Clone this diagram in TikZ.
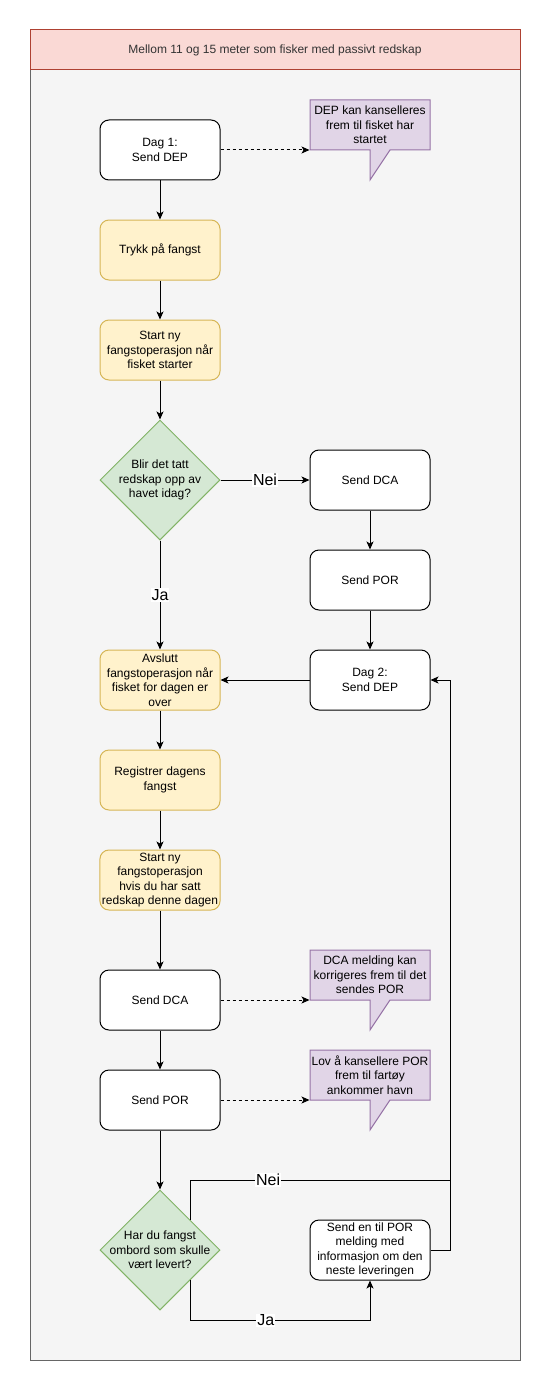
\documentclass[tikz,border=0pt]{standalone}
\usepackage{fontspec}
\setmainfont{Liberation Sans}
\usepackage{tikz}
\usetikzlibrary{arrows.meta,shapes.geometric}
\definecolor{headfill}{HTML}{FAD9D5}
\definecolor{headline}{HTML}{AE4132}
\definecolor{bodyfill}{HTML}{F5F5F5}
\definecolor{bodyline}{HTML}{666666}
\definecolor{yelfill}{HTML}{FFF2CC}
\definecolor{yelline}{HTML}{D6B656}
\definecolor{grnfill}{HTML}{D5E8D4}
\definecolor{grnline}{HTML}{82B366}
\definecolor{purfill}{HTML}{E1D5E7}
\definecolor{purline}{HTML}{9673A6}

\begin{document}
\begin{tikzpicture}[x=1pt,y=-1pt,line width=1pt,
  txt/.style={font=\fontsize{12pt}{14.5pt}\selectfont, align=center},
  stepbox/.style={txt, draw, fill=white, rounded corners=9pt, minimum width=120pt, minimum height=60pt, inner sep=2pt},
  yelbox/.style={stepbox, draw=yelline, fill=yelfill},
  choice/.style={txt, draw=grnline, fill=grnfill, diamond, aspect=1, minimum width=120pt, minimum height=120pt, inner sep=-12pt},
  note/.style={draw=purline, fill=purfill, line join=miter},
  arr/.style={-{Stealth[length=8pt,width=7pt,inset=2pt]}},
  dasharr/.style={arr, dashed, dash pattern=on 3pt off 3pt},
  lbl/.style={fill=white, inner sep=1pt, font=\fontsize{16pt}{18pt}\selectfont}]
\useasboundingbox (0,0) rectangle (551,1391);
\draw[draw=bodyline, fill=bodyfill] (30,30) rectangle (520,1360);
\draw[draw=headline, fill=headfill] (30,30) rectangle (520,70);
\node[txt, text=black!80] (title) at (275,50) {Mellom 11 og 15 meter som fisker med passivt redskap};
\foreach \cy in {100,950,1050}
  \draw[note] (310,\cy) -- ++(120,0) -- ++(0,50) -- ++(-40,0) -- ++(-20,30) -- ++(0,-30) -- ++(-60,0) -- cycle;
\node[txt, minimum width=120pt, minimum height=50pt, inner sep=1pt] (note1) at (370,125) {DEP kan kanselleres\\frem til fisket har\\startet};
\node[txt, minimum width=120pt, minimum height=50pt, inner sep=1pt] (note2) at (370,975) {DCA melding kan\\korrigeres frem til det\\sendes POR};
\node[txt, minimum width=120pt, minimum height=50pt, inner sep=1pt] (note3) at (370,1075) {Lov å kansellere POR\\frem til fartøy\\ankommer havn};
\node[stepbox] (dag1) at (160,150) {Dag 1:\\Send DEP};
\node[yelbox] (trykk) at (160,250) {Trykk på fangst};
\node[yelbox] (startny) at (160,350) {Start ny\\fangstoperasjon når\\fisket starter};
\node[choice] (dia1) at (160,480) {Blir det tatt\\redskap opp av\\havet idag?};
\node[stepbox] (dca1) at (370,480) {Send DCA};
\node[stepbox] (por1) at (370,580) {Send POR};
\node[stepbox] (dag2) at (370,680) {Dag 2:\\Send DEP};
\node[yelbox] (avslutt) at (160,680) {Avslutt\\fangstoperasjon når\\fisket for dagen er\\over};
\node[yelbox] (reg) at (160,780) {Registrer dagens\\fangst};
\node[yelbox] (startny2) at (160,880) {Start ny\\fangstoperasjon\\hvis du har satt\\redskap denne dagen};
\node[stepbox] (dca2) at (160,1000) {Send DCA};
\node[stepbox] (por2) at (160,1100) {Send POR};
\node[choice] (dia2) at (160,1250) {Har du fangst\\ombord som skulle\\vært levert?};
\node[stepbox] (sendinfo) at (370,1250) {Send en til POR\\melding med\\informasjon om den\\neste leveringen};
\coordinate (nei) at (450,1180);
\draw[dasharr] (dag1) -- (note1.west |- dag1);
\draw[dasharr] (dca2) -- (note2.west |- dca2);
\draw[dasharr] (por2) -- (note3.west |- por2);
\draw[arr] (dag1) -- (trykk);
\draw[arr] (trykk) -- (startny);
\draw[arr] (startny) -- (dia1);
\draw[arr] (dia1) -- node[lbl]{Nei} (dca1);
\draw[arr] (dia1) -- node[lbl,pos=0.5]{Ja} (avslutt);
\draw[arr] (dca1) -- (por1);
\draw[arr] (por1) -- (dag2);
\draw[arr] (dag2) -- (avslutt);
\draw[arr] (avslutt) -- (reg);
\draw[arr] (reg) -- (startny2);
\draw[arr] (startny2) -- (dca2);
\draw[arr] (dca2) -- (por2);
\draw[arr] (por2) -- (dia2);
\draw[arr] (dia2.north east) |- node[lbl,pos=0.65]{Nei} (nei) |- (dag2.east);
\draw (sendinfo.east) -| (nei);
\draw[arr] (dia2.south east) -- ++(0,40) -| node[lbl,pos=0.21]{Ja} (sendinfo.south);
\end{tikzpicture}
\end{document}
